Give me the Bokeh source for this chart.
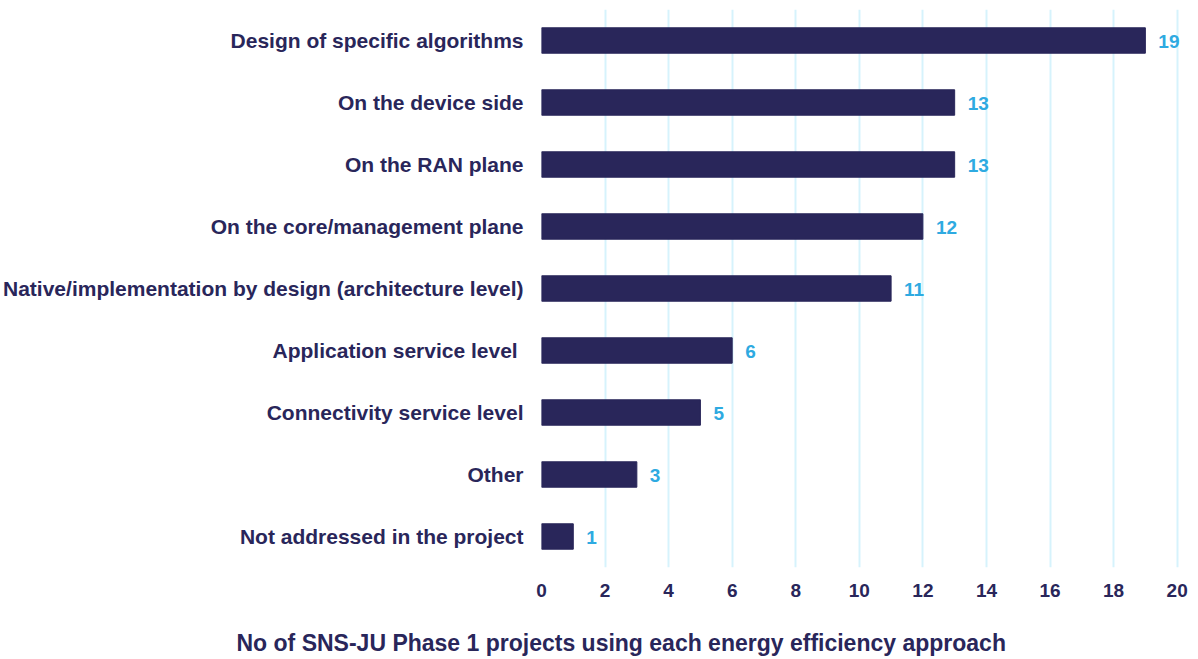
from bokeh.plotting import figure
from bokeh.models import ColumnDataSource, FixedTicker, Title
from bokeh.core.properties import value
from bokeh.embed import file_html
from bokeh.resources import INLINE

categories = [
    "Design of specific algorithms",
    "On the device side",
    "On the RAN plane",
    "On the core/management plane",
    "Native/implementation by design (architecture level)",
    "Application service level ",
    "Connectivity service level",
    "Other",
    "Not addressed in the project",
]
counts = [19, 13, 13, 12, 11, 6, 5, 3, 1]
x_ticks = [0, 2, 4, 6, 8, 10, 12, 14, 16, 18, 20]
x_title = "No of SNS-JU Phase 1 projects using each energy efficiency approach"

NAVY = "#29265a"
CYAN = "#2eaae1"
GRID = "#d6f3fc"
FONT = "Liberation Sans"

src = ColumnDataSource(dict(cat=categories, n=counts, lbl=[str(c) for c in counts]))

p = figure(
    width=1190, height=659,
    y_range=list(reversed(categories)),
    x_range=(0, 20.2),
    output_backend="svg", toolbar_location=None,
    min_border_left=541, min_border_right=7,
    min_border_top=9, min_border_bottom=92,
)
p.outline_line_color = None
p.background_fill_color = "white"

p.hbar(y="cat", right="n", left=0, height=0.41, source=src,
       fill_color=NAVY, line_color=NAVY)

p.text(x="n", y="cat", text="lbl", source=src,
       x_offset=13, y_offset=1, text_align="left", text_baseline="middle",
       text_color=CYAN, text_font=value(FONT), text_font_style="bold",
       text_font_size="19px")

p.ygrid.grid_line_color = None
p.xgrid.grid_line_color = GRID
p.xgrid.grid_line_width = 2
p.xaxis.ticker = FixedTicker(ticks=x_ticks)

for ax in (p.xaxis[0], p.yaxis[0]):
    ax.axis_line_color = None
    ax.major_tick_line_color = None
    ax.minor_tick_line_color = None
    ax.major_tick_out = 0
    ax.major_tick_in = 0
    ax.major_label_text_font = FONT
    ax.major_label_text_font_style = "bold"
    ax.major_label_text_color = NAVY

p.yaxis.major_label_text_font_size = "21px"
p.yaxis.major_label_standoff = 18
p.xaxis.major_label_text_font_size = "19px"
p.xaxis.major_label_standoff = 16
# blank spacer label to push the title below down
p.xaxis.axis_label = " "
p.xaxis.axis_label_text_font_size = "19px"
p.xaxis.axis_label_standoff = 4

t = Title(text=x_title, align="left", offset=-305,
          text_font=FONT, text_font_style="bold", text_font_size="23px",
          text_color=NAVY, standoff=0)
p.add_layout(t, "below")

open("out.html", "w").write(file_html(p, INLINE))
